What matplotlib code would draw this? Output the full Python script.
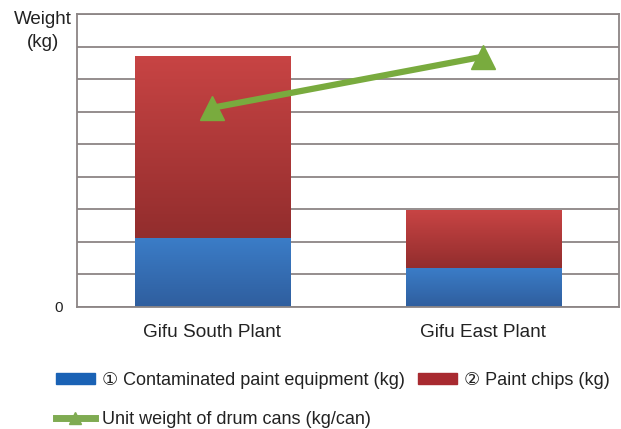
import matplotlib
matplotlib.use("Agg")
import matplotlib.pyplot as plt
import numpy as np
from matplotlib.patches import Patch
from matplotlib.lines import Line2D
from matplotlib.colors import LinearSegmentedColormap

plt.rcParams['font.family'] = ['Liberation Sans', 'DejaVu Sans']

categories = ["Gifu South Plant", "Gifu East Plant"]
equipment = [2.12, 1.2]
chips = [5.6, 1.78]
unit_weight = [6.12, 7.69]

blue = "#3574bf"
red = "#b53636"
green = "#79ab3e"
grid_c = "#8c8585"

blue_cmap = LinearSegmentedColormap.from_list("b", ["#2f5e9e", "#3b7dc8"])
red_cmap = LinearSegmentedColormap.from_list("r", ["#922d2d", "#c84444"])

fig = plt.figure(figsize=(6.21, 4.29), dpi=100)
ax = fig.add_axes([0.124, 0.2844, 0.872, 0.683])

x = np.arange(len(categories))
w = 0.573
b1 = ax.bar(x, equipment, w, color=blue, zorder=2)
b2 = ax.bar(x, chips, w, bottom=equipment, color=red, zorder=2)

grad = np.linspace(0, 1, 256).reshape(-1, 1)
for bars, cmap in ((b1, blue_cmap), (b2, red_cmap)):
    for p in bars:
        x0, y0 = p.get_x(), p.get_y()
        im = ax.imshow(grad, cmap=cmap, origin='lower', aspect='auto',
                       extent=(x0, x0 + p.get_width(), y0, y0 + p.get_height()),
                       zorder=2.1)
        im.set_clip_path(p)

ax.plot(x, unit_weight, color=green, lw=4.5, marker='^', markersize=17,
        solid_capstyle='butt', zorder=3)

ax.set_xlim(-0.5, 1.5)
ax.set_ylim(0, 9)
ax.set_yticks(np.arange(0, 10, 1))
ax.set_yticklabels(["0"] + [""] * 9)
ax.yaxis.grid(True, color=grid_c, lw=1.3, zorder=1)
ax.set_axisbelow(True)
ax.tick_params(axis='both', length=0, labelsize=11, colors='#222222', pad=10)
ax.tick_params(axis='x', labelsize=13.7, pad=12)
ax.set_xticks(x)
ax.set_xticklabels(categories)
for s in ax.spines.values():
    s.set_color(grid_c)
    s.set_linewidth(1.3)

fig.text(0.069, 0.955, "Weight", ha='center', va='center', fontsize=13.5, color='#222222')
fig.text(0.069, 0.902, "(kg)", ha='center', va='center', fontsize=13.5, color='#222222')

handles = [
    Patch(color="#1a62b5", label="① Contaminated paint equipment (kg)"),
    Line2D([], [], color="#7fab52", lw=5, marker='^', markersize=8,
           label="Unit weight of drum cans (kg/can)"),
    Patch(color="#a82a30", label="② Paint chips (kg)"),
]
fig.legend(handles=handles, ncol=2, loc='upper left', bbox_to_anchor=(0.090, 0.134),
           frameon=False, fontsize=13.0, handlelength=2.15, handleheight=0.55,
           handletextpad=0.4, columnspacing=0.75, labelspacing=1.25,
           borderpad=0, borderaxespad=0, labelcolor='#222222')

fig.savefig("out.png", dpi=100)
